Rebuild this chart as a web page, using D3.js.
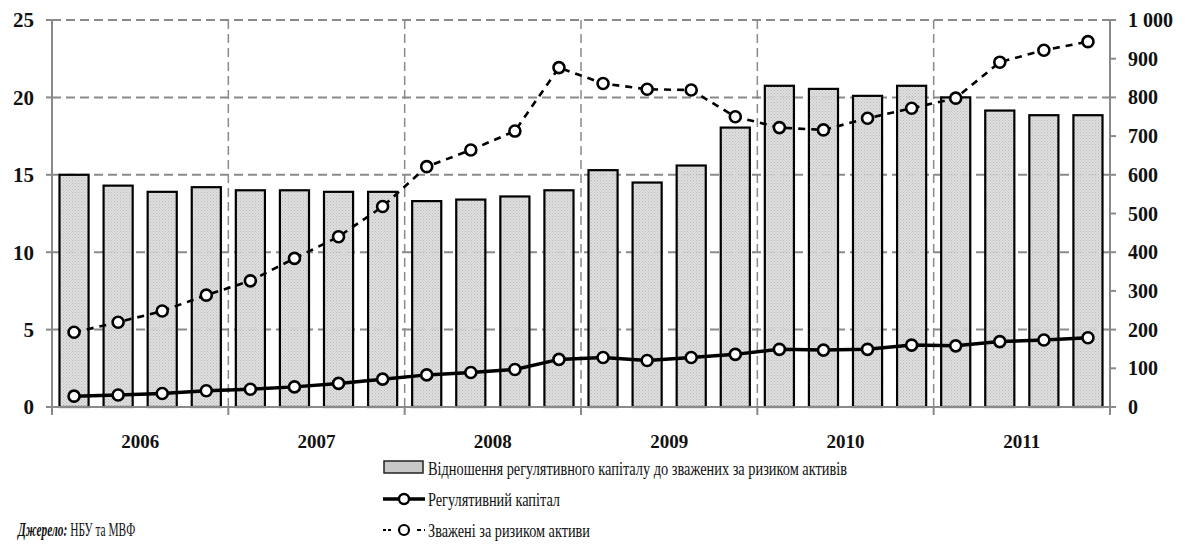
<!DOCTYPE html>
<html>
<head>
<meta charset="utf-8">
<script src="https://cdn.jsdelivr.net/npm/d3@7"></script>
<style>
body { margin: 0; background: #fff; }
</style>
</head>
<body>
<svg id="main_svg" width="1186" height="548" font-family="'Liberation Serif', 'Times New Roman', serif" font-weight="bold" fill="#111"></svg>
<script>
// дані по кварталах 2006-2011
var years = ["2006", "2007", "2008", "2009", "2010", "2011"];
var quarters = d3.range(24);
var ratio = [15.0, 14.3, 13.9, 14.2, 14.0, 14.0, 13.9, 13.9,
             13.3, 13.4, 13.6, 14.0, 15.3, 14.5, 15.6, 18.05,
             20.75, 20.55, 20.1, 20.75, 20.0, 19.15, 18.85, 18.85];
var capital = [28, 31, 35, 42, 46, 52, 61, 72,
               83, 89, 97, 123, 128, 120, 128, 136,
               149, 147, 149, 160, 158, 169, 173, 179];
var assets = [193, 219, 248, 289, 326, 384, 440, 518,
              621, 664, 713, 877, 836, 821, 819, 750,
              722, 716, 746, 772, 798, 891, 922, 944];
var leftTicks = [0, 5, 10, 15, 20, 25];
var rightTicks = [0, 100, 200, 300, 400, 500, 600, 700, 800, 900, 1000];
var legendLabels = ["Відношення регулятивного капіталу до зважених за ризиком активів",
                    "Регулятивний капітал",
                    "Зважені за ризиком активи"];
var legendWidths = [419, 132, 162];

var svg = d3.select("#main_svg");
var pLeft = 52, pRight = 1110, pTop = 20, pBottom = 407;

var x = d3.scaleBand().domain(quarters).range([pLeft, pRight]).paddingInner(0.34).paddingOuter(0.17);
var xYear = d3.scaleBand().domain(years).range([pLeft, pRight]);
var yL = d3.scaleLinear().domain([0, 25]).range([pBottom, pTop]);
var yR = d3.scaleLinear().domain([0, 1000]).range([pBottom, pTop]);

// текстура стовпчиків
var pat = svg.append("defs").append("pattern")
    .attr("id", "dots").attr("width", 3).attr("height", 3)
    .attr("patternUnits", "userSpaceOnUse");
pat.append("rect").attr("width", 3).attr("height", 3).attr("fill", "#dcdcdc");
pat.append("rect").attr("width", 1).attr("height", 1).attr("fill", "#b4b4b4");
pat.append("rect").attr("x", 1.5).attr("y", 1.5).attr("width", 1).attr("height", 1).attr("fill", "#bdbdbd");

// сітка
svg.append("g").selectAll("line")
    .data(leftTicks.slice(1))
    .enter().append("line")
    .attr("x1", pLeft).attr("x2", pRight)
    .attr("y1", function(d) { return yL(d); })
    .attr("y2", function(d) { return yL(d); })
    .attr("stroke", "#8a8a8a").attr("stroke-width", 2)
    .attr("stroke-dasharray", "9,5");

svg.append("g").selectAll("line")
    .data(years.slice(1))
    .enter().append("line")
    .attr("x1", function(d) { return xYear(d); })
    .attr("x2", function(d) { return xYear(d); })
    .attr("y1", pTop).attr("y2", pBottom)
    .attr("stroke", "#8a8a8a").attr("stroke-width", 1.5)
    .attr("stroke-dasharray", "9,5");

// стовпчики
svg.append("g").selectAll("rect")
    .data(ratio)
    .enter().append("rect")
    .attr("x", function(d, i) { return x(i); })
    .attr("width", x.bandwidth())
    .attr("y", function(d) { return yL(d); })
    .attr("height", function(d) { return pBottom - yL(d); })
    .attr("fill", "url(#dots)").attr("fill-opacity", 0.92)
    .attr("stroke", "#000").attr("stroke-width", 2.2);

// осі
var axisColor = "#8a8a8a";
svg.append("line").attr("x1", pLeft).attr("x2", pLeft).attr("y1", pTop).attr("y2", pBottom)
    .attr("stroke", axisColor).attr("stroke-width", 2);
svg.append("line").attr("x1", pRight).attr("x2", pRight).attr("y1", pTop).attr("y2", pBottom)
    .attr("stroke", axisColor).attr("stroke-width", 2);
svg.append("line").attr("x1", pLeft - 6).attr("x2", pRight + 6).attr("y1", pBottom).attr("y2", pBottom)
    .attr("stroke", axisColor).attr("stroke-width", 2);

svg.append("g").selectAll("line").data(leftTicks).enter().append("line")
    .attr("x1", pLeft - 6).attr("x2", pLeft)
    .attr("y1", function(d) { return yL(d); }).attr("y2", function(d) { return yL(d); })
    .attr("stroke", axisColor).attr("stroke-width", 2);
svg.append("g").selectAll("line").data(rightTicks).enter().append("line")
    .attr("x1", pRight).attr("x2", pRight + 6)
    .attr("y1", function(d) { return yR(d); }).attr("y2", function(d) { return yR(d); })
    .attr("stroke", axisColor).attr("stroke-width", 2);
svg.append("g").selectAll("line").data(years.concat(["end"])).enter().append("line")
    .attr("x1", function(d, i) { return pLeft + i * xYear.bandwidth(); })
    .attr("x2", function(d, i) { return pLeft + i * xYear.bandwidth(); })
    .attr("y1", pBottom).attr("y2", pBottom + 8)
    .attr("stroke", axisColor).attr("stroke-width", 2);

svg.append("g").selectAll("text").data(leftTicks).enter().append("text")
    .attr("x", 34).attr("y", function(d) { return yL(d); })
    .attr("dy", "0.35em").attr("text-anchor", "end")
    .attr("font-size", 21)
    .text(function(d) { return d; });

svg.append("g").selectAll("text").data(rightTicks).enter().append("text")
    .attr("x", 1128).attr("y", function(d) { return yR(d); })
    .attr("dy", "0.35em").attr("text-anchor", "start")
    .attr("font-size", 20)
    .text(function(d) { return d3.format(",")(d).replace(",", " "); });

svg.append("g").selectAll("text").data(years).enter().append("text")
    .attr("x", function(d) { return xYear(d) + xYear.bandwidth() / 2; })
    .attr("y", 441).attr("dy", "0.35em").attr("text-anchor", "middle")
    .attr("font-size", 19)
    .text(function(d) { return d; });

// лінії
var cx = function(i) { return x(i) + x.bandwidth() / 2; };

function drawLine(values, dash) {
    var line = d3.line()
        .x(function(d, i) { return cx(i); })
        .y(function(d) { return yR(d); });
    var g = svg.append("g");
    g.append("path").datum(values)
        .attr("d", line)
        .attr("fill", "none").attr("stroke", "#000")
        .attr("stroke-width", dash ? 2.6 : 3.5)
        .attr("stroke-dasharray", dash ? "7,6" : null);
    g.selectAll("circle").data(values).enter().append("circle")
        .attr("cx", function(d, i) { return cx(i); })
        .attr("cy", function(d) { return yR(d); })
        .attr("r", 5.5)
        .attr("fill", "#fff").attr("stroke", "#000").attr("stroke-width", 2.6);
}
drawLine(capital, false);
drawLine(assets, true);

// легенда
var lg = svg.append("g");
lg.append("rect").attr("x", 384).attr("y", 461).attr("width", 39).attr("height", 12)
    .attr("fill", "#c8c8c8").attr("stroke", "#222").attr("stroke-width", 1.5);
lg.append("line").attr("x1", 383).attr("x2", 425).attr("y1", 499).attr("y2", 499)
    .attr("stroke", "#000").attr("stroke-width", 3.5);
lg.append("circle").attr("cx", 404).attr("cy", 499).attr("r", 5)
    .attr("fill", "#fff").attr("stroke", "#000").attr("stroke-width", 2.4);
lg.append("line").attr("x1", 383).attr("x2", 425).attr("y1", 530).attr("y2", 530)
    .attr("stroke", "#000").attr("stroke-width", 2).attr("stroke-dasharray", "3,2,3,10,6,10,4");
lg.append("circle").attr("cx", 404).attr("cy", 530).attr("r", 5)
    .attr("fill", "#fff").attr("stroke", "#000").attr("stroke-width", 2.2);

lg.selectAll("text").data(legendLabels).enter().append("text")
    .attr("x", 428)
    .attr("y", function(d, i) { return 468 + i * 31; })
    .attr("dy", "0.35em")
    .attr("font-size", 19)
    .attr("font-weight", "normal")
    .attr("textLength", function(d, i) { return legendWidths[i]; })
    .attr("lengthAdjust", "spacingAndGlyphs")
    .text(function(d) { return d; });

// джерело (вузький шрифт, як у скані)
var src = svg.append("text")
    .attr("transform", "translate(18,536) scale(0.6,1)")
    .attr("font-size", 19);
src.append("tspan").attr("font-style", "italic").text("Джерело:");
src.append("tspan").attr("font-weight", "normal").text(" НБУ та МВФ");
</script>
</body>
</html>
